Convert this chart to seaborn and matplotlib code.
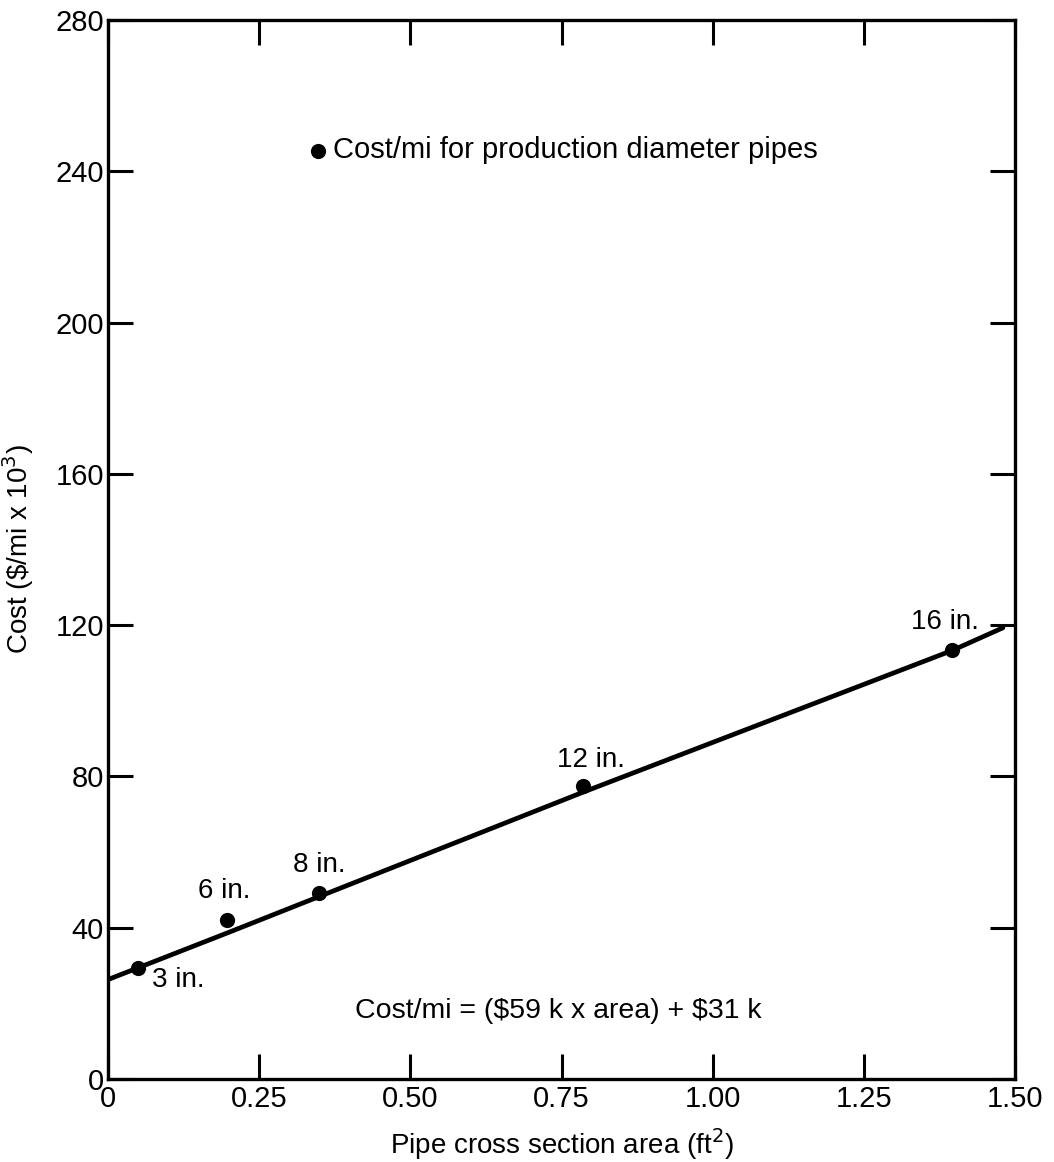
import numpy as np
import pandas as pd
import matplotlib
matplotlib.use("Agg")
import matplotlib.pyplot as plt
import seaborn as sns

sns.set_theme(style="ticks")
plt.rcParams["font.family"] = ["Liberation Sans", "DejaVu Sans"]
plt.rcParams["text.color"] = "black"
plt.rcParams["axes.labelcolor"] = "black"
plt.rcParams["xtick.color"] = "black"
plt.rcParams["ytick.color"] = "black"

# pipe data
pipe_labels = ["3 in.", "6 in.", "8 in.", "12 in.", "16 in."]
pipe_area = [0.049, 0.196, 0.349, 0.785, 1.396]
pipe_cost = [29.4, 42.1, 49.2, 77.5, 113.5]
label_offsets = [(10, -9), (-2, 21), (0, 20), (6, 19), (-5, 20)]  # points
label_ha = ["left", "center", "center", "center", "center"]

# fitted line as drawn
fit_area = [0.0, 0.20, 0.35, 0.785, 1.396, 1.48]
fit_cost = [26.3, 38.8, 48.3, 75.8, 113.3, 119.3]

x_ticks = [0, 0.25, 0.50, 0.75, 1.00, 1.25, 1.50]
x_ticklabels = ["0", "0.25", "0.50", "0.75", "1.00", "1.25", "1.50"]
y_ticks = [0, 40, 80, 120, 160, 200, 240, 280]

df_pts = pd.DataFrame({"area": pipe_area, "cost": pipe_cost})
df_fit = pd.DataFrame({"area": fit_area, "cost": fit_cost})

fig = plt.figure(figsize=(10.54, 11.62), dpi=100)
ax = fig.add_axes([0.1025, 0.0714, 0.8605, 0.9114])

sns.lineplot(data=df_fit, x="area", y="cost", ax=ax, color="black", lw=3.4, sort=False)
sns.scatterplot(data=df_pts, x="area", y="cost", ax=ax, color="black", s=120,
                edgecolor="black", linewidth=0, zorder=5,
                label="Cost/mi for production diameter pipes")

for lab, xa, yc, off, ha in zip(pipe_labels, pipe_area, pipe_cost, label_offsets, label_ha):
    ax.annotate(lab, (xa, yc), xytext=off, textcoords="offset points",
                ha=ha, va="center", fontsize=20)

ax.text(0.496, 0.064, "Cost/mi = (\\$59 k x area) + \\$31 k", transform=ax.transAxes,
        ha="center", va="center", fontsize=20.5)

leg = ax.legend(loc="center left", bbox_to_anchor=(0.224, 0.877), frameon=False,
                fontsize=21, handlelength=0.5, handletextpad=0.25, borderpad=0,
                borderaxespad=0, markerscale=1.0)

ax.set_xlim(0, 1.5)
ax.set_ylim(0, 280)
ax.set_xticks(x_ticks)
ax.set_xticklabels(x_ticklabels)
ax.set_yticks(y_ticks)

ax.set_xlabel("Pipe cross section area (ft$^2$)", fontsize=20, labelpad=10)
ax.set_ylabel("Cost (\\$/mi x 10$^3$)", fontsize=20, labelpad=14)

for s in ax.spines.values():
    s.set_visible(True)
    s.set_linewidth(2.4)
    s.set_color("black")

ax.tick_params(axis="both", which="major", direction="in", length=18, width=2.2,
               color="black", labelsize=21, top=True, right=True)
ax.tick_params(axis="x", pad=4)
ax.tick_params(axis="y", pad=3)

fig.savefig("out.png", dpi=100)
